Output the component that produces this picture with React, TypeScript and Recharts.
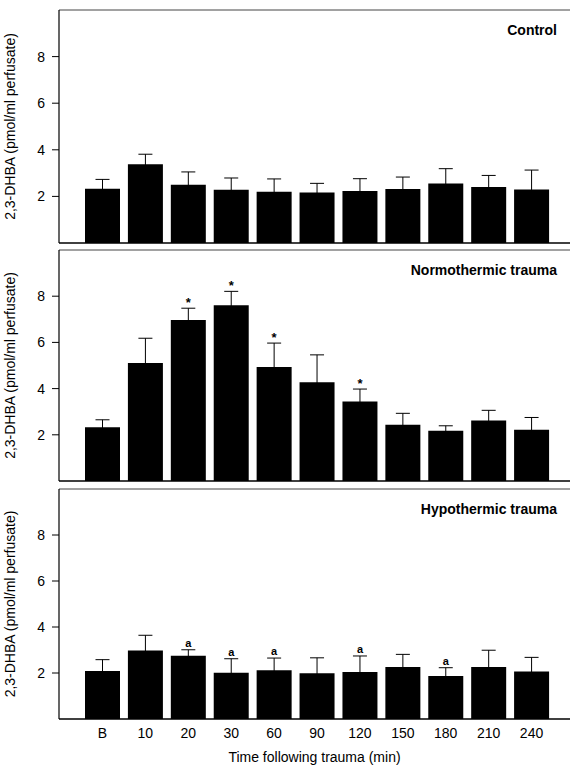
import React from "react";
import {
  Bar,
  BarChart,
  ErrorBar,
  LabelList,
  ReferenceLine,
  XAxis,
  YAxis,
} from "recharts";

const timepoints = ["B", "10", "20", "30", "60", "90", "120", "150", "180", "210", "240"];

const controlMean = [2.33, 3.38, 2.5, 2.29, 2.2, 2.17, 2.23, 2.32, 2.55, 2.4, 2.3];
const controlSem = [0.4, 0.43, 0.55, 0.5, 0.55, 0.39, 0.53, 0.51, 0.64, 0.5, 0.83];

const normoMean = [2.33, 5.11, 6.97, 7.61, 4.94, 4.27, 3.44, 2.44, 2.17, 2.62, 2.22];
const normoSem = [0.32, 1.07, 0.51, 0.6, 1.03, 1.19, 0.54, 0.49, 0.22, 0.44, 0.53];
const normoMarks = ["", "", "*", "*", "*", "", "*", "", "", "", ""];

const hypoMean = [2.09, 2.98, 2.75, 2.01, 2.12, 1.99, 2.04, 2.26, 1.87, 2.26, 2.06];
const hypoSem = [0.49, 0.66, 0.26, 0.61, 0.53, 0.67, 0.7, 0.55, 0.36, 0.73, 0.62];
const hypoMarks = ["", "", "a", "a", "a", "", "a", "", "a", "", ""];

const yTicks = [2, 4, 6, 8];
const yLabel = "2,3-DHBA (pmol/ml perfusate)";
const xLabel = "Time following trauma (min)";

const FONT = "'Liberation Sans', Arial, Helvetica, sans-serif";

type PanelProps = {
  title: string;
  mean: number[];
  sem: number[];
  marks?: string[];
  top: number;
  height: number;
  xHeight: number;
  showX: boolean;
};

function Panel({ title, mean, sem, marks, top, height, xHeight, showX }: PanelProps) {
  const data = timepoints.map((t, i) => ({
    t,
    mean: mean[i],
    err: sem[i],
    mark: marks ? marks[i] : "",
  }));

  const renderMark = (props: any) => {
    const { x, y, width, height: h, value, index } = props;
    if (!value) return null;
    const perUnit = h / mean[index];
    const capY = y - sem[index] * perUnit;
    const star = value === "*";
    return (
      <text
        key={`m-${index}`}
        x={x + width / 2}
        y={star ? capY - 1 : capY - 3}
        textAnchor="middle"
        fontSize={star ? 13 : 11}
        fontWeight="bold"
        fontFamily={FONT}
        fill="#000"
      >
        {value}
      </text>
    );
  };

  return (
    <div style={{ position: "absolute", left: 0, top, width: 570, height }}>
      <BarChart
        width={570}
        height={height}
        data={data}
        margin={{ top: 10, right: 0, bottom: 0, left: 0 }}
        barSize={35}
      >
        <XAxis
          dataKey="t"
          height={xHeight}
          padding={{ left: 22, right: 17 }}
          axisLine={{ stroke: "#000", strokeWidth: 1.5 }}
          tickLine={false}
          tick={showX ? { fill: "#000", fontSize: 14, fontFamily: FONT } : false}
          tickSize={0}
          tickMargin={9}
          label={
            showX
              ? {
                  value: xLabel,
                  position: "insideBottom",
                  offset: 3,
                  fill: "#000",
                  fontSize: 14,
                  fontFamily: FONT,
                }
              : undefined
          }
        />
        <YAxis
          width={59}
          domain={[0, 10]}
          ticks={yTicks}
          interval={0}
          axisLine={{ stroke: "#000", strokeWidth: 1.2 }}
          tickLine={{ stroke: "#000" }}
          tickSize={7}
          tickMargin={7}
          tick={{ fill: "#000", fontSize: 14, fontFamily: FONT }}
          label={{
            value: yLabel,
            angle: -90,
            position: "insideLeft",
            offset: 10,
            style: { textAnchor: "middle" },
            fill: "#000",
            fontSize: 14,
            fontFamily: FONT,
          }}
        />
        <ReferenceLine y={10} stroke="#444" strokeWidth={1} />
        <Bar dataKey="mean" fill="#000" isAnimationActive={false}>
          <ErrorBar dataKey="err" direction="y" width={7} stroke="#000" strokeWidth={1} />
          {marks ? <LabelList dataKey="mark" content={renderMark} /> : null}
        </Bar>
      </BarChart>
      <div
        style={{
          position: "absolute",
          right: 13,
          top: 22,
          fontFamily: FONT,
          fontWeight: "bold",
          fontSize: 14,
          color: "#000",
        }}
      >
        {title}
      </div>
    </div>
  );
}

export default function App() {
  return (
    <div
      style={{
        position: "absolute",
        left: 0,
        top: 0,
        width: 570,
        height: 765,
        background: "#fff",
        overflow: "hidden",
      }}
    >
      <Panel title="Control" mean={controlMean} sem={controlSem} top={0} height={247} xHeight={4} showX={false} />
      <Panel
        title="Normothermic trauma"
        mean={normoMean}
        sem={normoSem}
        marks={normoMarks}
        top={240}
        height={245}
        xHeight={4}
        showX={false}
      />
      <Panel
        title="Hypothermic trauma"
        mean={hypoMean}
        sem={hypoSem}
        marks={hypoMarks}
        top={479}
        height={286}
        xHeight={46}
        showX={true}
      />
    </div>
  );
}
